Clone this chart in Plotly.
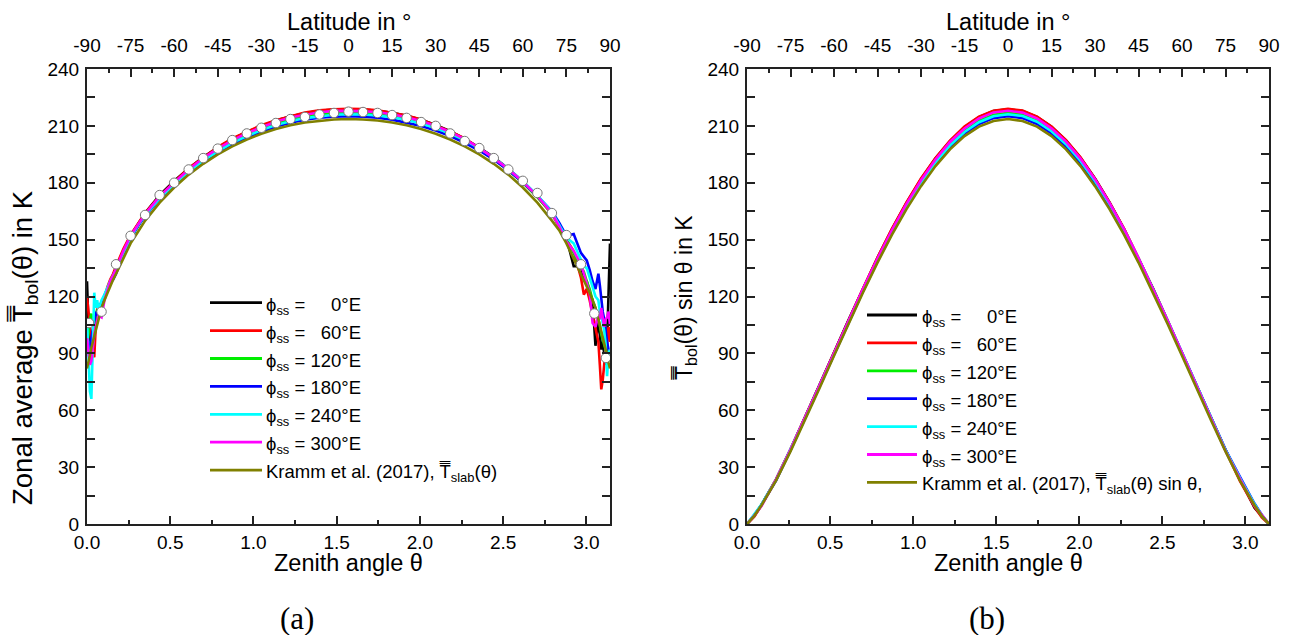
import numpy as np
import plotly.graph_objects as go

W, H = 1291, 635

# ---------------- data ----------------
# zenith angle grid (degrees) for panel (a)
theta_a_deg = [0, 0.5, 1, 1.5, 2, 2.5, 3, 3.5, 4, 5, 6, 7, 8, 9, 10, 12.5, 15, 17.5, 20,
               25, 30, 35, 40, 45, 50, 55, 60, 65, 70, 75, 80, 85, 90, 95, 100, 105, 110,
               115, 120, 125, 130, 135, 140, 145, 150, 155, 160,
               162.5, 165, 167.5, 170, 171, 172, 173, 174, 175, 176, 176.5, 177, 177.5,
               178, 178.5, 179, 179.5, 180]

T_0E = [128, 105, 96, 100, 92, 98, 106, 112, 110, 116, 120, 124, 128, 131, 135, 144, 152, 158, 164,
        173.5, 181, 187.5, 193.5, 198.5, 203, 206.8, 210, 212.8, 215, 216.7, 217.9, 218.6, 218.8,
        218.6, 218, 216.9, 215.3, 213.2, 210.5, 207.2, 203.2, 198.6, 193.4, 187.4, 180.7, 173, 164.3,
        158, 151, 136, 136, 130, 128, 122, 118, 94, 108, 100, 92, 96, 88, 84, 95, 130, 148]
T_60E = [120, 112, 100, 96, 90, 88, 104, 113, 115, 114, 119, 125, 129, 132, 136, 145, 152.5, 158.5, 164,
         173, 180.5, 187.8, 193.2, 198.8, 203.4, 207, 210.4, 213, 215.2, 217, 218.2, 218.8, 219,
         218.9, 218.2, 217, 215.5, 213.4, 210.3, 207, 203.4, 198.4, 193, 187, 180.2, 172.5, 163.5,
         157, 150, 144, 130, 121, 124, 118, 110, 104, 96, 84, 71, 76, 86, 92, 98, 104, 96]
T_120E = [95, 100, 108, 111, 104, 106, 110, 113, 112, 116, 121, 124, 127, 130, 134, 143, 151, 157, 163,
          172, 179.5, 186.2, 192, 197, 201.5, 205.2, 208.4, 211.1, 213.3, 214.9, 216, 216.7, 216.9,
          216.7, 216.1, 215, 213.5, 211.5, 208.9, 205.8, 202, 197.6, 192.5, 186.6, 180, 172.4, 163.8,
          157, 150, 143, 136, 133, 128, 124, 118, 114, 108, 105, 100, 97, 95, 92, 90, 88, 86]
T_180E = [100, 96, 92, 98, 102, 108, 112, 110, 114, 117, 121, 124, 127, 129, 132, 142, 150.5, 157, 162.5,
          171.5, 178.8, 185.3, 191, 195.8, 200.2, 203.8, 206.9, 209.5, 211.6, 213.2, 214.3, 214.9, 215.1,
          214.9, 214.3, 213.3, 211.8, 209.9, 207.5, 204.6, 201.1, 197, 192.2, 186.6, 180.2, 173, 165,
          159, 152, 153, 143, 141, 139, 134, 128, 124, 132, 126, 118, 112, 108, 100, 96, 92, 90]
T_240E = [108, 88, 70, 66, 90, 122, 114, 118, 113, 118, 121, 125, 128, 131, 134, 143, 151, 157.5, 163,
          171.8, 179.2, 185.8, 191.6, 196.5, 201, 204.6, 207.8, 210.4, 212.5, 214.1, 215.2, 215.9, 216.1,
          216, 215.5, 214.5, 213.1, 211.3, 208.9, 206, 202.5, 198.2, 193.2, 187.4, 180.8, 173.4, 164.6,
          158, 151, 148, 140, 136, 135, 130, 126, 120, 118, 112, 110, 106, 102, 95, 78, 90, 92]
T_300E = [98, 90, 84, 86, 95, 100, 104, 108, 110, 109, 118, 123, 128, 131, 135, 144, 152, 158, 163.5,
          172.8, 180.2, 187, 193, 198, 202.4, 206.2, 209.4, 212.2, 214.4, 216, 217.2, 217.9, 218,
          217.8, 217.2, 216.1, 214.6, 212.6, 210, 206.8, 203, 198.4, 193, 187.2, 180.5, 173, 164,
          157, 149, 144, 137, 132, 128, 122, 106, 104, 110, 108, 114, 110, 104, 108, 109, 112, 105]
T_slab = [82, 85, 89, 93, 96, 99, 102, 105, 108, 114, 118, 122, 126, 129, 132, 140, 148, 154, 160,
          169.5, 177.5, 184.3, 190, 195, 199.2, 202.8, 205.8, 208.3, 210.3, 211.8, 212.8, 213.4, 213.6,
          213.4, 212.8, 211.8, 210.3, 208.3, 205.8, 202.8, 199.2, 195, 190, 184.3, 177.5, 169.5, 160,
          155, 148, 140, 132, 129, 126, 122, 118, 114, 108, 105, 102, 99, 96, 93, 89, 85, 82]

# open circles in panel (a)
theta_obs_deg = [0.7, 5, 10, 15, 20, 25, 30, 35, 40, 45, 50, 55, 60, 65, 70, 75, 80, 85, 90,
                 95, 100, 105, 110, 115, 120, 125, 130, 135, 140, 145, 150, 155, 160, 165, 170,
                 174.6, 178.6]
T_obs = [106, 112, 137, 152, 163, 173.5, 180, 187, 193, 198, 202.5, 206, 209, 211.5, 213.6,
         214.7, 216, 216.8, 217.5, 217.3, 216.8, 215.7, 214.2, 212, 210, 206, 202, 198.3, 193,
         187, 181, 174.6, 164, 152.4, 137, 111, 87.6]

# panel (b): T sin(theta)
theta_b_deg = [0, 2.5, 5, 10, 15, 20, 25, 30, 35, 40, 45, 50, 55, 60, 65, 70, 75, 80, 85, 90,
               95, 100, 105, 110, 115, 120, 125, 130, 135, 140, 145, 150, 155, 160, 165, 170,
               175, 177.5, 180]
S_0E = [0, 4.3, 10.1, 23.4, 39.3, 56.1, 73.3, 90.5, 107.6, 124.4, 140.4, 155.5, 169.4, 181.9,
        192.9, 202.0, 209.3, 214.6, 217.8, 218.8, 217.8, 214.7, 209.5, 202.3, 193.2, 182.3,
        169.7, 155.7, 140.4, 124.3, 107.5, 90.4, 73.1, 56.2, 39.1, 23.6, 8.6, 4.2, 0]
S_60E = [0, 3.8, 9.9, 23.6, 39.5, 56.1, 73.1, 90.25, 107.7, 124.2, 140.6, 155.8, 169.6, 182.2,
         193.0, 202.2, 209.6, 214.9, 218.0, 219, 218.1, 214.9, 209.6, 202.5, 193.4, 182.1,
         169.6, 155.8, 140.3, 124.1, 107.3, 90.1, 72.9, 55.9, 38.8, 22.6, 9.1, 3.5, 0]
S_120E = [0, 4.6, 10.1, 23.3, 39.1, 55.7, 72.7, 89.75, 106.8, 123.4, 139.3, 154.3, 168.1, 180.5,
          191.3, 200.4, 207.6, 212.7, 215.9, 216.9, 215.9, 212.8, 207.7, 200.6, 191.7, 180.9,
          168.6, 154.7, 139.7, 123.7, 107.0, 90.0, 72.9, 56.0, 38.8, 23.6, 9.9, 4.3, 0]
S_180E = [0, 4.7, 10.2, 22.9, 38.9, 55.6, 72.5, 89.4, 106.3, 122.8, 138.5, 153.4, 167.0, 179.2,
          189.9, 198.8, 205.9, 211.0, 214.1, 215.1, 214.1, 211.0, 206.0, 199.0, 190.2, 179.7,
          167.6, 154.0, 139.3, 123.5, 107.0, 90.1, 73.1, 56.4, 39.3, 24.8, 10.8, 4.9, 0]
S_240E = [0, 5.3, 10.3, 23.3, 39.1, 55.7, 72.6, 89.6, 106.6, 123.2, 138.9, 154.0, 167.6, 180.0,
          190.7, 199.7, 206.8, 211.9, 215.1, 216.1, 215.2, 212.2, 207.2, 200.3, 191.5, 180.9,
          168.8, 155.1, 140.1, 124.2, 107.5, 90.4, 73.3, 56.3, 39.1, 24.3, 10.5, 4.7, 0]
S_300E = [0, 4.4, 9.5, 23.4, 39.3, 55.9, 73.0, 90.1, 107.3, 124.1, 140.0, 155.0, 168.9, 181.3,
          192.3, 201.5, 208.6, 213.9, 217.1, 218, 217.0, 213.9, 208.7, 201.7, 192.7, 181.9,
          169.4, 155.5, 140.3, 124.1, 107.4, 90.25, 73.1, 56.1, 38.6, 23.8, 9.6, 4.8, 0]
S_slab = [0, 4.3, 9.9, 22.9, 38.3, 54.7, 71.6, 88.75, 105.7, 122.1, 137.9, 152.6, 166.1, 178.2,
          188.8, 197.6, 204.6, 209.6, 212.6, 213.6, 212.6, 209.6, 204.6, 197.6, 188.8, 178.2,
          166.1, 152.6, 137.9, 122.1, 105.7, 88.75, 71.6, 54.7, 38.3, 22.9, 9.9, 4.3, 0]

names_a = ["ϕ<sub>ss</sub> =\u00a0\u00a0\u00a0\u00a0 0°E", "ϕ<sub>ss</sub> =\u00a0\u00a0 60°E",
           "ϕ<sub>ss</sub> = 120°E", "ϕ<sub>ss</sub> = 180°E", "ϕ<sub>ss</sub> = 240°E",
           "ϕ<sub>ss</sub> = 300°E", "Kramm et al. (2017), T\u033f<sub>slab</sub>(θ)"]
names_b = names_a[:6] + ["Kramm et al. (2017), T\u033f<sub>slab</sub>(θ) sin θ,"]
colors = ["#000000", "#ff0000", "#00ee00", "#0000ff", "#00ffff", "#ff00ff", "#808000"]

lat_ticks = list(range(-90, 91, 15))

# ---------------- figure ----------------
FONT = "Liberation Sans, Arial, sans-serif"
fig = go.Figure()

ta = np.deg2rad(theta_a_deg)
tb = np.deg2rad(theta_b_deg)
for ys, c in zip([T_0E, T_60E, T_120E, T_180E, T_240E, T_300E, T_slab], colors):
    fig.add_trace(go.Scatter(x=ta, y=ys, mode="lines", line=dict(color=c, width=2.6),
                             xaxis="x", yaxis="y", showlegend=False, hoverinfo="skip"))
fig.add_trace(go.Scatter(x=np.deg2rad(theta_obs_deg), y=T_obs, mode="markers",
                         marker=dict(symbol="circle", size=9.5, color="white",
                                     line=dict(color="#777777", width=1)),
                         xaxis="x", yaxis="y", showlegend=False))
for ys, c in zip([S_0E, S_60E, S_120E, S_180E, S_240E, S_300E, S_slab], colors):
    fig.add_trace(go.Scatter(x=tb, y=ys, mode="lines", line=dict(color=c, width=2.6),
                             xaxis="x2", yaxis="y2", showlegend=False, hoverinfo="skip"))

# empty traces that bind the top (latitude) axes so they are drawn
for xa, ya in [("x3", "y"), ("x4", "y2")]:
    fig.add_trace(go.Scatter(x=[lat_ticks[0], lat_ticks[-1]], y=[None, None], mode="lines",
                             xaxis=xa, yaxis=ya, showlegend=False, hoverinfo="skip"))


def px(x):
    return x / W


def py(y):
    return 1 - y / H


dom_xa = [px(87), px(610)]
dom_xb = [px(747), px(1269)]
dom_y = [py(524), py(69)]

AX = dict(showline=True, linewidth=2, linecolor="#222222", ticks="inside", ticklen=8,
          tickwidth=1.5, tickcolor="#222222", showgrid=False, zeroline=False,
          automargin=False, tickfont=dict(family=FONT, size=19, color="black"))


def xbottom(domain, anchor):
    return dict(AX, domain=domain, anchor=anchor, range=[0, np.pi], tick0=0, dtick=0.5,
                tickformat=".1f", mirror=False, ticklabelstandoff=0,
                minor=dict(dtick=0.25, ticklen=4, ticks="inside", tickwidth=1.5,
                           tickcolor="#222222", showgrid=False))


def xtop(over, anchor):
    return dict(AX, overlaying=over, anchor=anchor, side="top", range=[-90, 90],
                tickmode="array", tickvals=lat_ticks, ticktext=[str(v) for v in lat_ticks],
                ticklabelstandoff=7,
                minor=dict(tickvals=[v + 7.5 for v in lat_ticks[:-1]], ticklen=4,
                           ticks="inside", tickwidth=1.5, tickcolor="#222222", showgrid=False))


def yax(anchor):
    return dict(AX, domain=dom_y, anchor=anchor, range=[0, 240], tick0=0, dtick=30,
                mirror="allticks", ticklabelstandoff=2,
                minor=dict(dtick=15, ticklen=4, ticks="inside", tickwidth=1.5,
                           tickcolor="#222222", showgrid=False))


fig.update_layout(
    width=W, height=H, margin=dict(l=0, r=0, t=0, b=0, pad=0, autoexpand=False),
    paper_bgcolor="white", plot_bgcolor="white", showlegend=False,
    font=dict(family=FONT, color="black"),
    xaxis=xbottom(dom_xa, "y"), yaxis=yax("x"),
    xaxis2=xbottom(dom_xb, "y2"), yaxis2=yax("x2"),
    xaxis3=xtop("x", "y"), xaxis4=xtop("x2", "y2"),
)

ann = []
# axis titles
for cx in [348.5, 1008]:
    ann.append(dict(text="Latitude in °", x=px(cx), y=py(22), xref="paper", yref="paper",
                    showarrow=False, xanchor="center", yanchor="middle",
                    font=dict(family=FONT, size=23.5)))
    ann.append(dict(text="Zenith angle θ", x=px(cx), y=py(563), xref="paper", yref="paper",
                    showarrow=False, xanchor="center", yanchor="middle",
                    font=dict(family=FONT, size=23.5)))
ann.append(dict(text="Zonal average T\u033f<sub>bol</sub>(θ) in K", x=px(24), y=py(348),
                xref="paper", yref="paper", showarrow=False, textangle=-90,
                xanchor="center", yanchor="middle", font=dict(family=FONT, size=27.5)))
ann.append(dict(text="T\u033f<sub>bol</sub>(θ) sin θ in K", x=px(685), y=py(298),
                xref="paper", yref="paper", showarrow=False, textangle=-90,
                xanchor="center", yanchor="middle", font=dict(family=FONT, size=23)))
ann.append(dict(text="(a)", x=px(297), y=py(618), xref="paper", yref="paper", showarrow=False,
                xanchor="center", yanchor="middle",
                font=dict(family="Liberation Serif, Times New Roman, serif", size=31)))
ann.append(dict(text="(b)", x=px(987), y=py(618), xref="paper", yref="paper", showarrow=False,
                xanchor="center", yanchor="middle",
                font=dict(family="Liberation Serif, Times New Roman, serif", size=31)))

# legends (drawn as key lines + labels)
shapes = []
for (lx0, lx1, tx, y0, names) in [(210, 262, 264, 302.7, names_a), (867, 917, 920, 315, names_b)]:
    for i, (nm, c) in enumerate(zip(names, colors)):
        yy = y0 + 27.9 * i
        shapes.append(dict(type="line", xref="paper", yref="paper", x0=px(lx0), x1=px(lx1),
                           y0=py(yy), y1=py(yy), line=dict(color=c, width=2.8)))
        ann.append(dict(text=nm, x=px(tx), y=py(yy + 3), xref="paper", yref="paper",
                        showarrow=False, xanchor="left", yanchor="middle",
                        font=dict(family=FONT, size=18.5)))

fig.update_layout(annotations=ann, shapes=shapes)
fig.write_html("out.html")
